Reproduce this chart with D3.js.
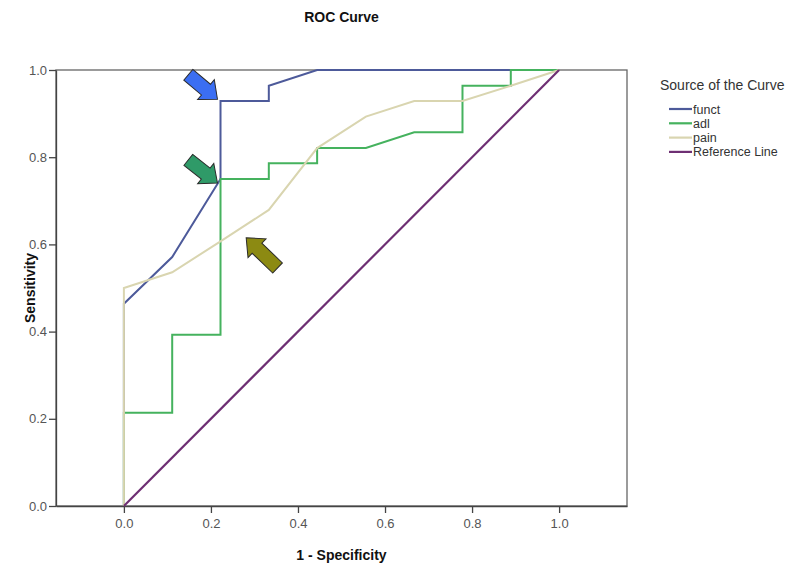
<!DOCTYPE html>
<html><head><meta charset="utf-8">
<script src="https://cdn.jsdelivr.net/npm/d3@7"></script>
<style>body{margin:0;background:#fff;} text{font-family:"Liberation Sans",Arial,sans-serif;}</style>
</head><body>
<svg id="c" width="800" height="568"></svg>
<script>
// ---- data ----
const seriesNames = ["funct", "adl", "pain", "Reference Line"];
const functX = [0, 0, 0.111, 0.222, 0.222, 0.333, 0.333, 0.444, 1.0];
const functY = [0, 0.464, 0.571, 0.75, 0.929, 0.929, 0.964, 1.0, 1.0];
const adlX = [0, 0, 0.111, 0.111, 0.222, 0.222, 0.333, 0.333, 0.444, 0.444, 0.556, 0.667, 0.778, 0.778, 0.889, 0.889, 1.0];
const adlY = [0, 0.214, 0.214, 0.393, 0.393, 0.75, 0.75, 0.786, 0.786, 0.821, 0.821, 0.857, 0.857, 0.964, 0.964, 1.0, 1.0];
const painX = [0, 0, 0.111, 0.222, 0.333, 0.444, 0.556, 0.667, 0.778, 0.889, 1.0];
const painY = [0, 0.5, 0.536, 0.607, 0.679, 0.821, 0.893, 0.929, 0.929, 0.964, 1.0];
const refX = [0, 1];
const refY = [0, 1];
const xTicks = [0, 0.2, 0.4, 0.6, 0.8, 1.0];
const yTicks = [0, 0.2, 0.4, 0.6, 0.8, 1.0];
// annotation arrows (tail -> tip, data units)
const arrowTail = [[0.148, 0.989], [0.148, 0.794], [0.353, 0.546]];
const arrowTip  = [[0.215, 0.933], [0.215, 0.741], [0.281, 0.615]];
const arrowColors = ["#3b6ef2", "#2f9a68", "#8c8a12"];

const colors = ["#4d5a9a", "#45b25e", "#d9d5b0", "#6e2f73"];

const svg = d3.select("#c");
const L = 56, R = 627, T = 70, B = 506;
const x = d3.scaleLinear().domain([-0.156, 1.156]).range([L, R]);
const y = d3.scaleLinear().domain([0, 1]).range([B, T]);

// frame
svg.append("rect").attr("x", L).attr("y", T).attr("width", R - L).attr("height", B - T)
  .attr("fill", "none").attr("stroke", "#666").attr("stroke-width", 1.3);

// axes
const xAxis = svg.append("g").attr("transform", `translate(0,${B})`)
  .call(d3.axisBottom(x).tickValues(xTicks).tickFormat(d3.format(".1f")).tickSize(7).tickSizeOuter(0));
const yAxis = svg.append("g").attr("transform", `translate(${L},0)`)
  .call(d3.axisLeft(y).tickValues(yTicks).tickFormat(d3.format(".1f")).tickSize(7).tickSizeOuter(0));
[xAxis, yAxis].forEach(a => {
  a.select(".domain").attr("stroke", "#444").attr("stroke-width", 1.3);
  a.selectAll(".tick line").attr("stroke", "#444").attr("stroke-width", 1.3);
  a.selectAll(".tick text").attr("fill", "#555").style("font-size", "13px")
    .style("font-family", "'Liberation Sans',Arial,sans-serif");
});
xAxis.selectAll(".tick text").attr("dy", "0.9em");
yAxis.selectAll(".tick text").attr("x", -9);

// lines
const line = d3.line().x(d => x(d[0])).y(d => y(d[1]));
const series = [
  d3.zip(functX, functY),
  d3.zip(adlX, adlY),
  d3.zip(painX, painY),
  d3.zip(refX, refY)
];
series.forEach((s, i) => {
  svg.append("path").datum(s).attr("d", line).attr("fill", "none")
    .attr("stroke", colors[i]).attr("stroke-width", i === 3 ? 2.2 : 2)
    .attr("stroke-linejoin", "miter");
});

// arrows
arrowTail.forEach((t, i) => {
  const x0 = x(t[0]), y0 = y(t[1]), x1 = x(arrowTip[i][0]), y1 = y(arrowTip[i][1]);
  const len = Math.hypot(x1 - x0, y1 - y0);
  const ang = Math.atan2(y1 - y0, x1 - x0) * 180 / Math.PI;
  const bw = 7, hw = 13, hl = 15;
  const pts = [[0, -bw], [len - hl, -bw], [len - hl, -hw], [len, 0], [len - hl, hw], [len - hl, bw], [0, bw]];
  svg.append("polygon")
    .attr("points", pts.map(p => p.join(",")).join(" "))
    .attr("transform", `translate(${x0},${y0}) rotate(${ang})`)
    .attr("fill", arrowColors[i]).attr("stroke", "#2a2a2a").attr("stroke-width", 1)
    .attr("stroke-linejoin", "miter");
});

// titles
svg.append("text").attr("x", (L + R) / 2).attr("y", 22).attr("text-anchor", "middle")
  .style("font-size", "14px").style("font-weight", "bold").attr("fill", "#111").text("ROC Curve");
svg.append("text").attr("x", (L + R) / 2).attr("y", 560).attr("text-anchor", "middle")
  .style("font-size", "14px").style("font-weight", "bold").attr("fill", "#111").text("1 - Specificity");
svg.append("text").attr("transform", `translate(35,${(T + B) / 2}) rotate(-90)`).attr("text-anchor", "middle")
  .style("font-size", "14px").style("font-weight", "bold").attr("fill", "#111").text("Sensitivity");

// legend
const lg = svg.append("g");
lg.append("text").attr("x", 660).attr("y", 90).style("font-size", "14px").attr("fill", "#333")
  .text("Source of the Curve");
seriesNames.forEach((n, i) => {
  const yy = 109 + i * 14.3;
  lg.append("line").attr("x1", 669).attr("x2", 692).attr("y1", yy).attr("y2", yy)
    .attr("stroke", colors[i]).attr("stroke-width", 2.2);
  lg.append("text").attr("x", 693).attr("y", yy + 4.5).style("font-size", "12.5px").attr("fill", "#333").text(n);
});
</script>
</body></html>
